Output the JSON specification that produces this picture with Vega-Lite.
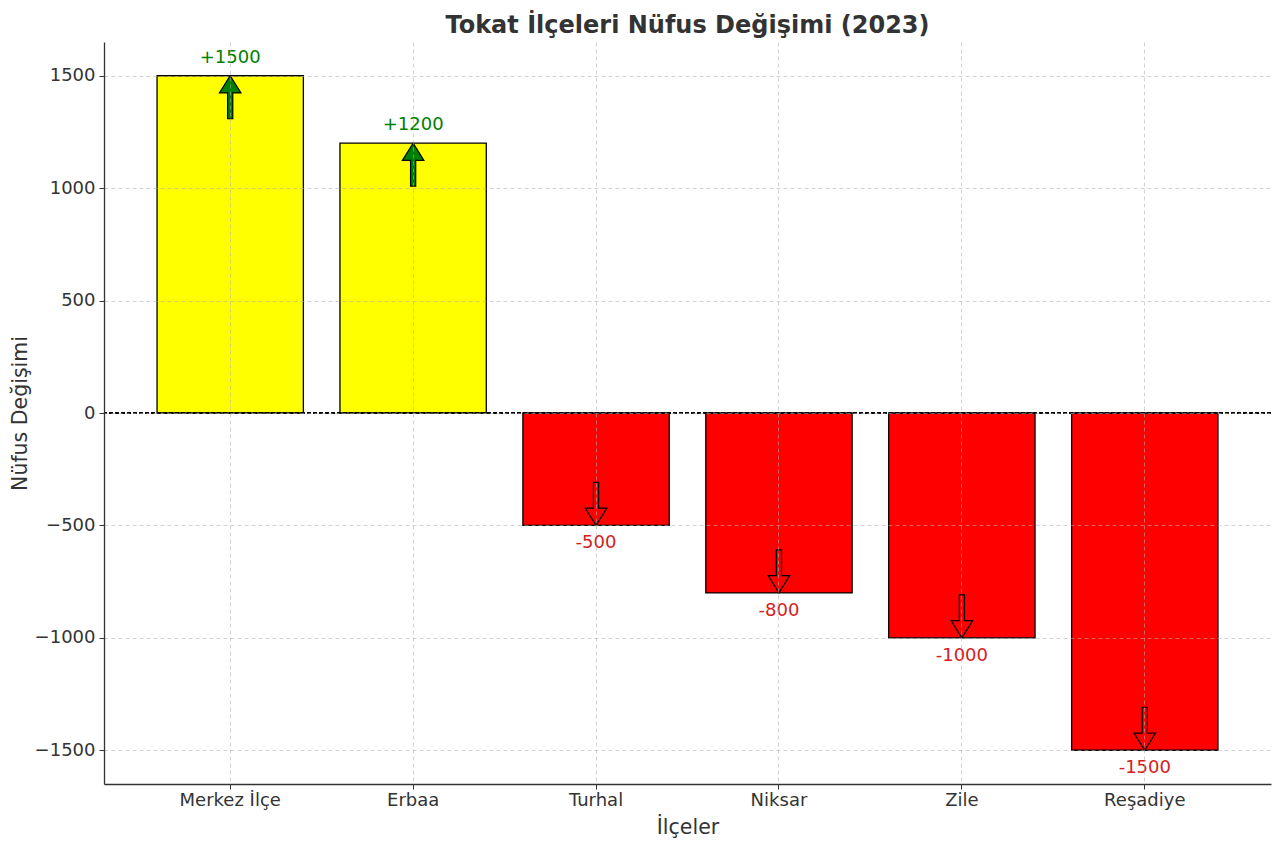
{
  "$schema": "https://vega.github.io/schema/vega-lite/v6.json",
  "width": 1167,
  "height": 742,
  "autosize": {"type": "none"},
  "padding": {"left": 104, "top": 42, "right": 9, "bottom": 66},
  "background": "white",
  "config": {"view": {"stroke": null}},
  "title": {"text": "Tokat İlçeleri Nüfus Değişimi (2023)", "font": "DejaVu Sans", "fontSize": 24, "fontWeight": "bold", "color": "#333333", "offset": 4, "anchor": "middle", "frame": "group"},
  "data": {"values": [
    {"ilce": "Merkez İlçe", "degisim": 1500},
    {"ilce": "Erbaa", "degisim": 1200},
    {"ilce": "Turhal", "degisim": -500},
    {"ilce": "Niksar", "degisim": -800},
    {"ilce": "Zile", "degisim": -1000},
    {"ilce": "Reşadiye", "degisim": -1500}
  ]},
  "transform": [{"calculate": "(datum.degisim > 0 ? '+' : '') + datum.degisim", "as": "etiket"}],
  "layer": [
    {
      "mark": {"type": "bar", "stroke": "black", "strokeWidth": 1.3},
      "encoding": {
        "x": {"field": "ilce", "type": "nominal", "sort": null,
          "scale": {"paddingInner": 0.2, "paddingOuter": 0.29},
          "axis": {"title": "İlçeler", "labelAngle": 0, "bandPosition": 0.5, "grid": true, "gridDash": [4, 3], "gridColor": "#b0b0b0", "gridOpacity": 0.7, "gridWidth": 0.8,
            "domainColor": "#333333", "domainWidth": 1.3, "tickColor": "#333333", "tickSize": 5, "labelFont": "DejaVu Sans", "labelFontSize": 18, "labelColor": "#333333", "labelPadding": 2,
            "titleFont": "DejaVu Sans", "titleFontSize": 20.5, "titleFontWeight": "normal", "titleColor": "#333333", "titlePadding": 8, "zindex": 1}},
        "y": {"field": "degisim", "type": "quantitative",
          "scale": {"domain": [-1650, 1650], "nice": false, "zero": false},
          "axis": {"title": "Nüfus Değişimi", "format": "d", "values": [-1500, -1000, -500, 0, 500, 1000, 1500], "grid": true, "gridDash": [4, 3], "gridColor": "#b0b0b0", "gridOpacity": 0.7, "gridWidth": 0.8,
            "domainColor": "#333333", "domainWidth": 1.3, "tickColor": "#333333", "tickSize": 5, "labelFont": "DejaVu Sans", "labelFontSize": 18, "labelColor": "#333333", "labelPadding": 4,
            "titleFont": "DejaVu Sans", "titleFontSize": 20.5, "titleFontWeight": "normal", "titleColor": "#333333", "titlePadding": 4, "zindex": 1}},
        "color": {"condition": {"test": "datum.degisim > 0", "value": "#ffff00"}, "value": "#ff0000"}
      }
    },
    {
      "mark": {"type": "rule", "color": "black", "strokeWidth": 0.9, "strokeDash": [4, 2]},
      "encoding": {"y": {"datum": 0}}
    },
    {
      "transform": [{"filter": "datum.degisim > 0"}],
      "mark": {"type": "point", "shape": "M0,0 L0.5,0.8 L0.12,0.8 L0.12,2 L-0.12,2 L-0.12,0.8 L-0.5,0.8 Z", "size": 1849, "filled": true, "fill": "#008000", "stroke": "black", "strokeWidth": 1.2, "opacity": 1},
      "encoding": {
        "x": {"field": "ilce", "type": "nominal", "sort": null},
        "y": {"field": "degisim", "type": "quantitative"}
      }
    },
    {
      "transform": [{"filter": "datum.degisim < 0"}],
      "mark": {"type": "point", "shape": "M0,0 L0.5,-0.8 L0.12,-0.8 L0.12,-2 L-0.12,-2 L-0.12,-0.8 L-0.5,-0.8 Z", "size": 1849, "filled": true, "fill": "#ff0000", "stroke": "black", "strokeWidth": 1.2, "opacity": 1},
      "encoding": {
        "x": {"field": "ilce", "type": "nominal", "sort": null},
        "y": {"field": "degisim", "type": "quantitative"}
      }
    },
    {
      "transform": [{"filter": "datum.degisim > 0"}],
      "mark": {"type": "text", "font": "DejaVu Sans", "fontSize": 18, "color": "#008000", "dy": -18, "baseline": "middle"},
      "encoding": {
        "x": {"field": "ilce", "type": "nominal", "sort": null},
        "y": {"field": "degisim", "type": "quantitative"},
        "text": {"field": "etiket"}
      }
    },
    {
      "transform": [{"filter": "datum.degisim < 0"}],
      "mark": {"type": "text", "font": "DejaVu Sans", "fontSize": 18, "color": "#d62020", "dy": 18, "baseline": "middle"},
      "encoding": {
        "x": {"field": "ilce", "type": "nominal", "sort": null},
        "y": {"field": "degisim", "type": "quantitative"},
        "text": {"field": "etiket"}
      }
    }
  ]
}
